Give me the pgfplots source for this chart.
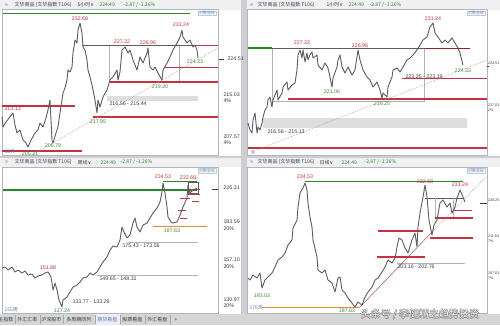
\documentclass[border=0pt]{standalone}
\usepackage{pgfplots}
\pgfplotsset{compat=1.18}
\usepackage{fontspec}
\setmainfont{Liberation Sans}
\newfontfamily\cjk{Noto Sans CJK SC}
\newfontfamily\sym{DejaVu Sans}
\definecolor{lred}{RGB}{196,50,66}
\definecolor{lgreen}{RGB}{60,140,60}
\definecolor{tgreen}{RGB}{40,135,40}
\definecolor{dline}{RGB}{100,92,80}
\definecolor{band}{RGB}{222,222,225}
\definecolor{price}{RGB}{92,92,98}
\definecolor{frm}{RGB}{180,180,186}
\definecolor{hdr}{RGB}{240,240,242}
\definecolor{sep}{RGB}{205,205,210}
\definecolor{orng}{RGB}{232,142,40}
\definecolor{blueT}{RGB}{90,125,175}
\definecolor{ttxt}{RGB}{60,60,70}
\definecolor{dots}{RGB}{200,140,140}
\newcommand\lab{\fontsize{5.3}{6}\selectfont}
\newcommand\labs{\fontsize{3.7}{4.5}\selectfont}
\newcommand\hd{\cjk\fontsize{5}{6}\selectfont}
\newcommand\wm{\cjk\fontsize{10}{11}\selectfont}
\pgfplotsset{panel/.style={scale only axis, hide axis, clip=false, y dir=reverse, anchor=north west},
  pr/.style={price, line width=0.9pt, line join=round},
  rl/.style={lred, line width=1.1pt},
  rlt/.style={lred, line width=0.7pt},
  gl/.style={black!30, line width=0.5pt},
  dd/.style={dots, densely dotted, line width=0.6pt}}
\begin{document}
\begin{tikzpicture}
\path[use as bounding box] (0,0) rectangle (500pt,-325pt);
\fill[sep] (0,0) rectangle (500pt,-325pt);
% ================= Panel 1 : 5-hour =================
\begin{axis}[panel, width=247pt, height=157pt, xmin=0, xmax=247, ymin=0, ymax=157, at={(0pt,0pt)}]
\fill[hdr] (0,0) rectangle (241,9.5);
\fill[white] (0,9.5) rectangle (241,155.5);
\draw[frm, line width=0.5pt] (2,9.5) rectangle (218,155.5);
\node[anchor=west, font=\sym\fontsize{5}{6}\selectfont, text=blueT] at (1,4.8) {∞};
\node[anchor=west, font=\hd, text=ttxt] at (11,4.8) {文华商品 (文华指数 T106)};
\node[anchor=west, font=\hd, text=ttxt] at (74,4.8) {5小时{\sym ∨}};
\node[anchor=west, font=\hd, text=tgreen] at (96,4.8) {224.49};
\node[anchor=west, font=\hd, text=tgreen] at (120,4.8) {-2.87 / -1.26\%};
\node[anchor=north east, draw=blueT!40, fill=white, inner sep=0.6pt, font=\cjk\fontsize{4}{5}\selectfont, text=blueT] at (216,10.5) {对数坐标};
\addplot[tgreen, line width=1pt] coordinates {(3,13) (190,13)};
\addplot[fill=band, draw=none] coordinates {(107,96) (198,96) (198,101) (107,101)} -- cycle;
\addplot[gl] coordinates {(109,45) (109,83)};
\addplot[gl] coordinates {(179,45) (179,83)};
\addplot[dline, line width=1pt] coordinates {(82,45) (198,45)};
\addplot[rlt] coordinates {(196,45) (218,45)};
\addplot[rl] coordinates {(110,82) (218,82)};
\addplot[rlt] coordinates {(165,67.5) (218,67.5)};
\addplot[rl] coordinates {(93,117) (218,117)};
\addplot[rl] coordinates {(2,106) (75,106)};
\addplot[rl] coordinates {(2,151) (82,151)};
\addplot[dd] coordinates {(32,155) (218,48)};
\addplot[pr] coordinates {(2,117) (3,127) (6,122) (9,118) (13,113) (15,125) (17,133) (20,130) (23,140) (26,143) (28,147) (31,140) (35,133) (38,130) (40,123) (43,127) (46,118) (48,110) (50,100) (51,120) (52,140) (53,143) (56,133) (58,127) (60,113) (62,100) (63,93) (65,88) (67,80) (68,70) (70,72) (72,67) (73,53) (75,40) (77,43) (78,30) (80,23) (82,33) (83,47) (85,50) (87,60) (88,70) (90,77) (92,85) (93,90) (95,100) (97,113) (98,100) (100,107) (103,97) (107,90) (110,80) (113,77) (117,70) (118,80) (120,72) (122,50) (125,47) (128,53) (130,50) (133,60) (137,70) (140,57) (143,63) (147,53) (148,48) (150,67) (153,70) (155,67) (158,73) (162,80) (163,70) (167,63) (170,57) (173,50) (177,43) (180,37) (182,30) (183,37) (187,43) (190,40) (193,47) (195,45) (197,50) (198,58)};
\node[font=\lab, text=lred] at (80,19) {232.68};
\node[font=\lab, text=lred] at (122,42) {227.32};
\node[font=\lab, text=lred] at (148,43) {226.96};
\node[font=\lab, text=lred] at (181,25) {231.24};
\node[font=\lab, text=lgreen] at (195,62) {224.33};
\node[font=\lab, text=lgreen] at (160,87) {219.20};
\node[anchor=west, font=\lab, text=ttxt] at (106,104) {216.56 - 215.44};
\node[font=\lab, text=lgreen] at (98,122) {217.95};
\node[anchor=west, font=\lab, text=lred] at (1,109) {213.13};
\node[font=\lab, text=lgreen] at (53,146) {206.79};
\node[font=\lab, text=lgreen] at (30,154) {205.31};
\node[anchor=west, font=\hd, text=blueT] at (1,152) {53天};
\draw[ttxt, line width=0.4pt] (219,59) -- (224,59);
\node[anchor=west, font=\lab, text=ttxt] at (224,59) {224.51};
\node[anchor=west, font=\lab, text=ttxt] at (220,95) {215.03};
\node[anchor=west, font=\lab, text=ttxt] at (220,101) {4\%};
\node[anchor=west, font=\lab, text=ttxt] at (220,137) {207.57};
\node[anchor=west, font=\lab, text=ttxt] at (220,143) {4\%};
\end{axis}
% ================= Panel 2 : 1-hour =================
\begin{axis}[panel, width=253pt, height=157pt, xmin=247, xmax=500, ymin=0, ymax=157, at={(247pt,0pt)}]
\fill[hdr] (247,0) rectangle (500,9.5);
\fill[white] (247,9.5) rectangle (500,155.5);
\draw[frm, line width=0.5pt] (247.5,9.5) rectangle (487,155.5);
\node[anchor=west, font=\sym\fontsize{5}{6}\selectfont, text=blueT] at (246,4.8) {∞};
\node[anchor=west, font=\hd, text=ttxt] at (254,4.8) {文华商品 (文华指数 T106)};
\node[anchor=west, font=\hd, text=ttxt] at (323,4.8) {1小时{\sym ∨}};
\node[anchor=west, font=\hd, text=tgreen] at (345,4.8) {224.49};
\node[anchor=west, font=\hd, text=tgreen] at (366,4.8) {-2.87 / -1.26\%};
\node[anchor=north east, draw=blueT!40, fill=white, inner sep=0.6pt, font=\cjk\fontsize{4}{5}\selectfont, text=blueT] at (485,10.5) {对数坐标};
\addplot[fill=band, draw=none] coordinates {(263,118) (467,118) (467,128) (263,128)} -- cycle;
\addplot[gl] coordinates {(272,48) (272,101) (424,101) (424,48)};
\addplot[tgreen, line width=1.1pt] coordinates {(248,48) (272,48)};
\addplot[dline, line width=1pt] coordinates {(272,48) (425,48)};
\addplot[lred!70!black, line width=0.8pt] coordinates {(425,48) (470,48)};
\addplot[rl] coordinates {(288,99) (487,99)};
\addplot[rlt] coordinates {(402,78) (487,78)};
\addplot[rl] coordinates {(248,148) (487,148)};
\addplot[dd] coordinates {(257,150) (487,60)};
\addplot[pr] coordinates {(248,123) (250,130) (252,133) (253,120) (255,113) (257,133) (258,127) (260,130) (262,123) (263,117) (265,110) (267,107) (268,100) (270,97) (272,107) (273,100) (277,90) (278,100) (282,93) (283,87) (287,82) (288,90) (292,85) (295,83) (297,70) (298,55) (300,50) (302,58) (303,50) (305,62) (307,53) (308,60) (310,55) (312,52) (313,58) (317,55) (318,65) (322,70) (325,63) (328,68) (330,77) (332,87) (333,78) (337,67) (338,60) (340,55) (342,67) (345,73) (348,67) (352,75) (355,70) (358,50) (360,60) (363,70) (367,77) (370,80) (373,87) (377,82) (380,90) (382,98) (383,93) (387,97) (388,87) (392,77) (393,70) (397,68) (400,72) (403,67) (407,60) (410,58) (413,55) (417,50) (420,45) (423,40) (427,37) (430,27) (433,23) (435,33) (438,37) (442,43) (445,40) (448,43) (452,38) (455,43) (458,48) (460,53) (463,65)};
\node[font=\lab, text=lred] at (302,43) {227.32};
\node[font=\lab, text=lred] at (360,46) {226.96};
\node[font=\lab, text=lgreen] at (332,92) {221.06};
\node[font=\lab, text=lgreen] at (382,104) {219.20};
\node[font=\lab, text=lred] at (433,19) {231.24};
\node[font=\lab, text=lgreen] at (463,71) {224.33};
\node[anchor=west, font=\lab, text=ttxt] at (402,77) {223.35 - 223.19};
\node[anchor=west, font=\lab, text=ttxt] at (264,132) {216.56 - 215.13};
\node[anchor=west, font=\hd, text=blueT] at (247,153) {天};
\draw[ttxt, line width=0.4pt] (487,66) -- (489,66);
\node[anchor=west, inner sep=0.3pt, font=\labs, text=ttxt] at (487.5,63) {224.51};
\node[anchor=west, inner sep=0.3pt, font=\labs, text=ttxt] at (487.5,105) {217.03};
\node[anchor=west, inner sep=0.3pt, font=\labs, text=ttxt] at (487.5,110) {2\%};
\end{axis}
% ================= Panel 3 : weekly =================
\begin{axis}[panel, width=247pt, height=156pt, xmin=0, xmax=247, ymin=157.5, ymax=313.5, at={(0pt,-157.5pt)}]
\fill[hdr] (0,157.5) rectangle (241,167);
\fill[white] (0,167) rectangle (241,313.5);
\draw[frm, line width=0.5pt] (2,167) rectangle (218,313.5);
\node[anchor=west, font=\sym\fontsize{5}{6}\selectfont, text=blueT] at (1,162.3) {∞};
\node[anchor=west, font=\hd, text=ttxt] at (11,162.3) {文华商品 (文华指数 T106)};
\node[anchor=west, font=\hd, text=ttxt] at (74,162.3) {周线{\sym ∨}};
\node[anchor=west, font=\hd, text=tgreen] at (97,162.3) {224.49};
\node[anchor=west, font=\hd, text=tgreen] at (117,162.3) {-2.87 / -1.26\%};
\node[anchor=north east, draw=blueT!40, fill=white, inner sep=0.6pt, font=\cjk\fontsize{4}{5}\selectfont, text=blueT] at (216,168) {对数坐标};
\addplot[tgreen, line width=1.5pt] coordinates {(3,190) (197,190)};
\addplot[tgreen, line width=0.9pt] coordinates {(163,181) (197,181)};
\addplot[dd] coordinates {(199,174) (186,196)};
\addplot[dline, line width=0.5pt] coordinates {(188,182) (198,182) (198,193) (188,193)} -- cycle;
\addplot[rlt] coordinates {(188,189) (200,189)};
\addplot[rlt] coordinates {(188,194) (200,194)};
\addplot[rlt] coordinates {(180,198) (190,198)};
\addplot[rlt] coordinates {(192,201) (199,201)};
\addplot[rlt] coordinates {(178,210) (186,210)};
\addplot[rlt] coordinates {(180,218) (187,218)};
\addplot[orng, line width=1pt] coordinates {(153,226) (207,226)};
\addplot[gl] coordinates {(128,242) (198,242)};
\addplot[gl] coordinates {(97,275) (198,275)};
\addplot[pr] coordinates {(2,268) (5,267) (8,270) (12,267) (15,272) (18,270) (22,273) (25,271) (28,275) (32,274) (35,278) (38,276) (42,275) (45,273) (48,272) (51,277) (53,290) (55,283) (57,290) (59,300) (62,307) (63,300) (67,297) (70,292) (73,287) (77,285) (80,282) (83,278) (87,277) (90,273) (93,275) (97,272) (100,267) (103,262) (107,257) (110,250) (113,246) (117,247) (120,240) (122,227) (124,232) (127,238) (130,235) (133,223) (135,218) (137,227) (140,232) (143,225) (147,223) (150,218) (153,213) (157,208) (160,202) (162,192) (163,183) (165,193) (167,207) (168,217) (171,222) (173,223) (177,222) (180,215) (183,207) (187,198) (188,185) (190,193) (193,190) (197,188)};
\node[font=\lab, text=lred] at (163,177) {234.53};
\node[font=\lab, text=lred] at (188,178) {232.68};
\node[font=\lab, text=lgreen] at (172,231) {187.63};
\node[anchor=west, font=\lab, text=ttxt] at (119,246) {175.43 - 173.56};
\node[anchor=west, font=\lab, text=ttxt] at (96,279) {149.65 - 148.31};
\node[font=\lab, text=lred] at (48,268) {151.88};
\node[anchor=west, font=\lab, text=ttxt] at (69,302) {133.77 - 133.29};
\node[font=\lab, text=lgreen] at (62,311) {127.24};
\node[anchor=west, font=\hd, text=blueT] at (1,310) {155周};
\draw[ttxt, line width=0.4pt] (212,189) -- (218,189);
\node[anchor=west, font=\lab, text=ttxt] at (220,188) {226.31};
\node[anchor=west, font=\lab, text=ttxt] at (220,222) {183.59};
\node[anchor=west, font=\lab, text=ttxt] at (220,229) {20\%};
\node[anchor=west, font=\lab, text=ttxt] at (220,260) {157.10};
\node[anchor=west, font=\lab, text=ttxt] at (220,267) {20\%};
\node[anchor=west, font=\lab, text=ttxt] at (220,300) {130.97};
\node[anchor=west, font=\lab, text=ttxt] at (220,306) {20\%};
\end{axis}
% ================= Panel 4 : daily =================
\begin{axis}[panel, width=253pt, height=156pt, xmin=247, xmax=500, ymin=157.5, ymax=313.5, at={(247pt,-157.5pt)}]
\fill[hdr] (247,157.5) rectangle (500,167);
\fill[white] (247,167) rectangle (500,313.5);
\draw[frm, line width=0.5pt] (247.5,167) rectangle (487,313.5);
\node[anchor=west, font=\sym\fontsize{5}{6}\selectfont, text=blueT] at (246,162.3) {∞};
\node[anchor=west, font=\hd, text=ttxt] at (254,162.3) {文华商品 (文华指数 T106)};
\node[anchor=west, font=\hd, text=ttxt] at (316,162.3) {日线{\sym ∨}};
\node[anchor=west, font=\hd, text=tgreen] at (338,162.3) {224.49};
\node[anchor=west, font=\hd, text=tgreen] at (361,162.3) {-2.87 / -1.26\%};
\node[anchor=north east, draw=blueT!40, fill=white, inner sep=0.6pt, font=\cjk\fontsize{4}{5}\selectfont, text=blueT] at (485,168) {对数坐标};
\addplot[tgreen, line width=1pt] coordinates {(305,181) (463,181)};
\addplot[dline, line width=0.9pt] coordinates {(425,198) (463,198)};
\addplot[gl] coordinates {(435,198) (435,218)};
\addplot[gl] coordinates {(453,198) (453,218)};
\addplot[rl] coordinates {(435,218) (473,218)};
\addplot[rlt] coordinates {(453,210) (472,210)};
\addplot[rl] coordinates {(430,238) (473,238)};
\addplot[rl] coordinates {(378,231) (423,231)};
\addplot[rl] coordinates {(377,257) (425,257)};
\addplot[gl] coordinates {(397,263) (465,263)};
\addplot[orng, line width=0.9pt] coordinates {(262,307) (360,307)};
\addplot[lred!60!gray, line width=0.5pt] coordinates {(360,307) (432,232)};
\addplot[dd] coordinates {(432,232) (487,176)};
\addplot[pr] coordinates {(248,278) (250,280) (253,275) (257,278) (260,273) (262,288) (265,280) (268,277) (272,273) (275,267) (278,260) (282,257) (285,253) (288,245) (292,240) (293,228) (297,220) (298,207) (300,193) (303,188) (305,183) (307,190) (308,203) (310,217) (312,227) (313,240) (317,257) (318,270) (322,273) (325,270) (328,280) (332,283) (335,292) (338,278) (340,277) (342,290) (345,293) (348,298) (352,303) (355,307) (358,302) (362,305) (365,297) (368,292) (372,287) (375,280) (378,278) (382,272) (385,267) (388,260) (392,263) (395,258) (397,247) (399,238) (402,240) (405,248) (408,253) (412,240) (415,233) (417,247) (418,227) (420,213) (423,197) (425,185) (427,197) (429,220) (432,235) (434,225) (437,220) (440,203) (443,200) (447,207) (450,203) (452,213) (455,207) (457,198) (460,190) (463,197) (465,202)};
\node[font=\lab, text=lred] at (305,177) {234.53};
\node[font=\lab, text=lred] at (425,181.5) {232.68};
\node[font=\lab, text=lred] at (460,185) {231.24};
\node[anchor=west, font=\lab, text=ttxt] at (394,267) {203.16 - 202.76};
\node[font=\lab, text=lgreen] at (262,296) {193.03};
\node[font=\lab, text=lgreen] at (347,311) {187.63};
\node[anchor=west, font=\hd, text=blueT] at (246,308) {176天};
\draw[ttxt, line width=0.4pt] (480,203) -- (487,203);
\node[anchor=west, inner sep=0.3pt, font=\labs, text=ttxt] at (487.5,200) {226.25};
\node[anchor=west, inner sep=0.3pt, font=\labs, text=ttxt] at (487.5,236) {211.54};
\node[anchor=west, inner sep=0.3pt, font=\labs, text=ttxt] at (487.5,241) {7\%};
\node[anchor=west, inner sep=0.3pt, font=\labs, text=ttxt] at (487.5,273) {197.03};
\node[anchor=west, inner sep=0.3pt, font=\labs, text=ttxt] at (487.5,278) {7\%};
% ---- bottom tab bar ----
\fill[black!16] (0,313.5) rectangle (500,325);
\fill[blueT!12] (95,313.5) rectangle (120,325);
\draw[black!35, line width=0.4pt] (15,315) -- (15,324);
\draw[black!35, line width=0.4pt] (40,315) -- (40,324);
\draw[black!35, line width=0.4pt] (63,315) -- (63,324);
\draw[black!35, line width=0.4pt] (95,315) -- (95,324);
\draw[black!35, line width=0.4pt] (120,315) -- (120,324);
\draw[black!35, line width=0.4pt] (145,315) -- (145,324);
\draw[black!35, line width=0.4pt] (170,315) -- (170,324);
\node[font=\hd, text=ttxt] at (6,319.5) {主指数};
\node[font=\hd, text=ttxt] at (27.5,319.5) {外汇汇率};
\node[font=\hd, text=ttxt] at (51.5,319.5) {沪深股市};
\node[font=\hd, text=ttxt] at (79,319.5) {多周期同列};
\node[font=\hd, text=blueT] at (107.5,319.5) {期货看盘};
\node[font=\hd, text=ttxt] at (132.5,319.5) {股票看盘};
\node[font=\hd, text=ttxt] at (157.5,319.5) {外汇看盘};
\node[font=\hd, text=ttxt] at (176,319.5) {+};
% ---- watermark ----
\node[font=\wm, text=black!55] at (419.5,314.5) {头条号 / 李健精之趋势投资};
\node[font=\wm, text=black!55] at (420.5,314.5) {头条号 / 李健精之趋势投资};
\node[font=\wm, text=black!55] at (420,314) {头条号 / 李健精之趋势投资};
\node[font=\wm, text=black!55] at (420,315) {头条号 / 李健精之趋势投资};
\node[font=\wm, text=white] at (420,314.5) {头条号 / 李健精之趋势投资};
\end{axis}
\end{tikzpicture}
\end{document}
